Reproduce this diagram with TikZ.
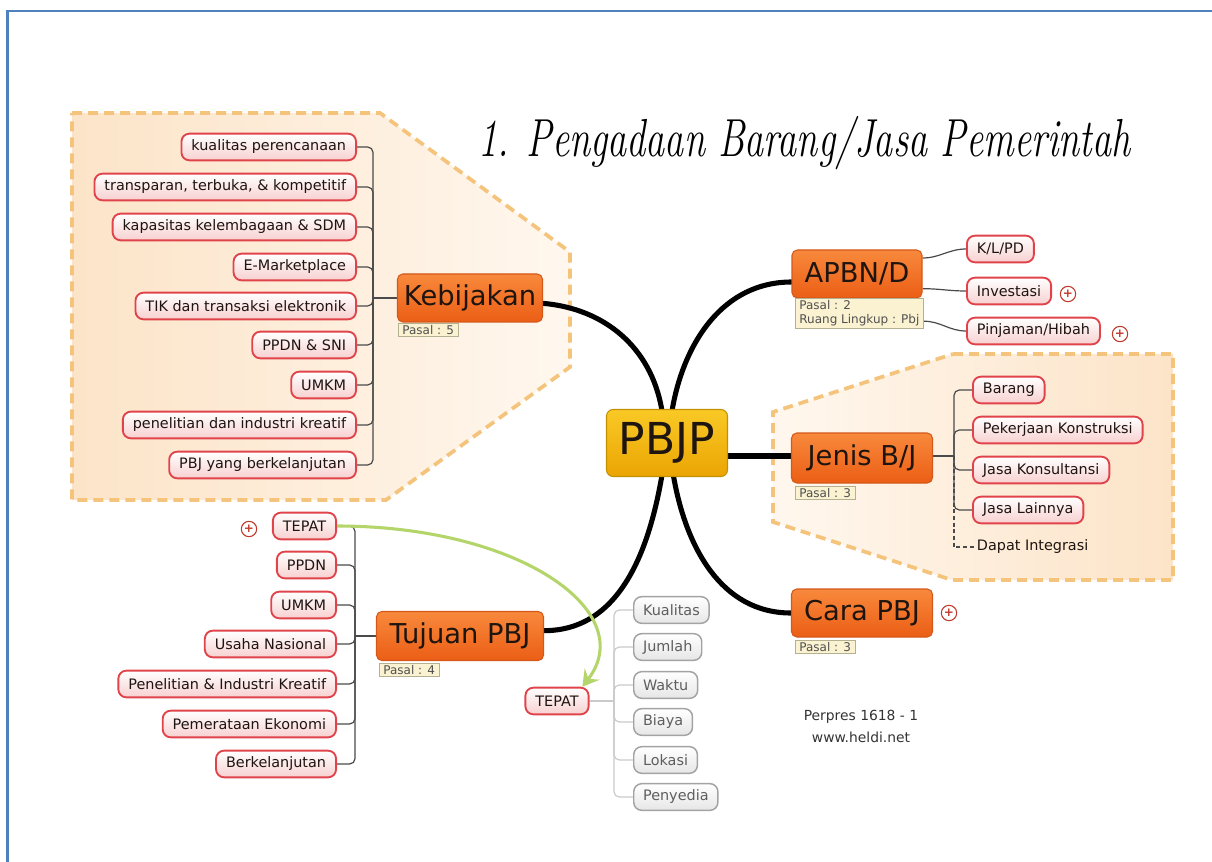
\documentclass[tikz,border=0pt]{standalone}
\usepackage[T1,TU]{fontenc}
\usepackage{fontspec}
\usepackage{graphicx}
\setmainfont{DejaVu Sans}
\usetikzlibrary{arrows.meta,calc}

% script face for the heading: Zapf Chancery when present, else Latin Modern italic
\newif\ifchancery
\IfFileExists{t1pzc.fd}{\IfFileExists{pzcmi8t.tfm}{\chancerytrue}{}}{}
\ifchancery
  \newcommand\headingface{\fontencoding{T1}\fontfamily{pzc}\fontseries{mb}\fontshape{it}\selectfont}
\else
  \newcommand\headingface{\fontencoding{TU}\fontfamily{lmr}\fontseries{m}\fontshape{it}\selectfont}
\fi

\definecolor{frameblue}{HTML}{4F81BD}
\definecolor{grpdash}{HTML}{F5C47C}
\definecolor{grpdeep}{HTML}{FCE4C8}
\definecolor{grplight}{HTML}{FFF7EE}
\definecolor{mainTop}{HTML}{F8893C}
\definecolor{mainBot}{HTML}{EB5E15}
\definecolor{mainEdge}{HTML}{D4581A}
\definecolor{hubTop}{HTML}{F9C926}
\definecolor{hubBot}{HTML}{EBA503}
\definecolor{hubEdge}{HTML}{C29000}
\definecolor{leafEdge}{HTML}{E0444A}
\definecolor{leafBot}{HTML}{F8D0D0}
\definecolor{noteFill}{HTML}{FAF2D0}
\definecolor{noteEdge}{HTML}{B4B092}
\definecolor{noteText}{HTML}{505050}
\definecolor{greyEdge}{HTML}{A3A3A3}
\definecolor{greyBot}{HTML}{E6E6E6}
\definecolor{greyText}{HTML}{5E5E5E}
\definecolor{greyLine}{HTML}{CACACA}
\definecolor{twigLine}{HTML}{4A4A4A}
\definecolor{linkGreen}{HTML}{B3D56A}
\definecolor{inkDark}{HTML}{1E1410}
\definecolor{plusRed}{HTML}{C0392B}

\pgfdeclarelayer{groups}
\pgfdeclarelayer{links}
\pgfsetlayers{groups,links,main}

\begin{document}
\begin{tikzpicture}[x=0.75pt,y=0.75pt,
  grouparea/.style={draw=grpdash, line width=2.8pt, dash pattern=on 7.5pt off 4.5pt},
  mainnode/.style={rounded corners=4pt, draw=mainEdge, line width=0.8pt,
    top color=mainTop, bottom color=mainBot, text=inkDark, inner sep=0pt,
    font=\fontsize{20.5}{24}\selectfont},
  hubnode/.style={rounded corners=5pt, draw=hubEdge, line width=0.8pt,
    top color=hubTop, bottom color=hubBot, text=inkDark, inner sep=0pt,
    font=\fontsize{33}{38}\selectfont},
  leaf/.style={rounded corners=6pt, draw=leafEdge, line width=1.4pt,
    top color=white, bottom color=leafBot, text=inkDark, inner xsep=7.5pt,
    inner ysep=0pt, minimum height=20pt, font=\fontsize{10.8}{13}\selectfont},
  greyleaf/.style={rounded corners=6pt, draw=greyEdge, line width=1.1pt,
    top color=white, bottom color=greyBot, text=greyText, inner xsep=7pt,
    inner ysep=0pt, minimum height=20pt, font=\fontsize{10.8}{13}\selectfont},
  note/.style={draw=noteEdge, line width=0.6pt, fill=noteFill, text=noteText,
    inner xsep=3pt, inner ysep=1.5pt, align=left,
    font=\fontsize{9}{10.5}\selectfont},
  plus/.style={circle, draw=plusRed, line width=0.8pt, fill=white, text=plusRed,
    minimum size=11.5pt, inner sep=0pt, font=\fontsize{9}{9}\selectfont\bfseries},
  trunk/.style={draw=black, line width=3.8pt, line cap=round},
  twig/.style={draw=twigLine, line width=0.9pt, rounded corners=4pt},
  greytwig/.style={draw=greyLine, line width=0.9pt, rounded corners=4pt}
]
\useasboundingbox (0,0) rectangle (1212,-862);

% page frame
\draw[frameblue, line width=1.9pt] (7.5,-880) -- (7.5,-11) -- (1230,-11);

% group areas
\begin{pgfonlayer}{groups}
  \path[grouparea, left color=grpdeep, right color=grplight]
    (72,-113) -- (380,-113) -- (570,-252) -- (570,-367) -- (386,-500)
    -- (72,-500) -- cycle;
  \path[grouparea, left color=grplight, right color=grpdeep]
    (953,-354) -- (1173,-354) -- (1173,-580) -- (952,-580) -- (773,-522)
    -- (773,-412) -- cycle;
\end{pgfonlayer}

% heading, stretched to its line length and drawn tall
\node[anchor=base west, inner sep=0pt, text=black] (title) at (478,-157)
  {\scalebox{1}[1.4]{\resizebox{489pt}{!}{\headingface\fontsize{30}{34}\selectfont 1. Pengadaan Barang/Jasa Pemerintah}}};

% central topic and main branches
\node[hubnode, minimum width=90.75pt, minimum height=50.25pt] (pbjp) at (667,-443) {PBJP};
\node[mainnode, minimum width=108.75pt, minimum height=36pt] (keb) at (470,-298) {Kebijakan};
\node[mainnode, minimum width=97.5pt, minimum height=36pt] (apbn) at (857,-274) {APBN/D};
\node[mainnode, minimum width=105.75pt, minimum height=37.5pt] (jenis) at (862,-458) {Jenis B/J};
\node[mainnode, minimum width=105.75pt, minimum height=36pt] (cara) at (862,-613) {Cara PBJ};
\node[mainnode, minimum width=125.25pt, minimum height=36.75pt] (tujuan) at (460,-636) {Tujuan PBJ};

% notes
\node[note, anchor=north west] (kebnote) at (398,-323) {Pasal : 5};
\node[note, anchor=north west] (apbnnote) at (795,-298) {Pasal : 2\\Ruang Lingkup : Pbj};
\node[note, anchor=north west] (jenisnote) at (795,-486) {Pasal : 3};
\node[note, anchor=north west] (caranote) at (795,-640) {Pasal : 3};
\node[note, anchor=north west] (tujuannote) at (379,-663) {Pasal : 4};

% Kebijakan leaves
\node[leaf, anchor=east] (k1) at (357,-147) {kualitas perencanaan};
\node[leaf, anchor=east] (k2) at (357,-187) {transparan, terbuka, \& kompetitif};
\node[leaf, anchor=east] (k3) at (357,-227) {kapasitas kelembagaan \& SDM};
\node[leaf, anchor=east] (k4) at (357,-267) {E-Marketplace};
\node[leaf, anchor=east] (k5) at (357,-306) {TIK dan transaksi elektronik};
\node[leaf, anchor=east] (k6) at (357,-345) {PPDN \& SNI};
\node[leaf, anchor=east] (k7) at (357,-385) {UMKM};
\node[leaf, anchor=east] (k8) at (357,-425) {penelitian dan industri kreatif};
\node[leaf, anchor=east] (k9) at (357,-465) {PBJ yang berkelanjutan};
\coordinate (kspine) at (373,-298);

% APBN/D leaves
\node[leaf, anchor=west] (a1) at (966,-249) {K/L/PD};
\node[leaf, anchor=west] (a2) at (966,-291) {Investasi};
\node[leaf, anchor=west] (a3) at (966,-331) {Pinjaman/Hibah};
\node[plus] (pa2) at (1068,-294) {+};
\node[plus] (pa3) at (1120,-334) {+};

% Jenis B/J leaves
\node[leaf, anchor=west] (j1) at (972,-390) {Barang};
\node[leaf, anchor=west] (j2) at (972,-430) {Pekerjaan Konstruksi};
\node[leaf, anchor=west] (j3) at (972,-470) {Jasa Konsultansi};
\node[leaf, anchor=west] (j4) at (972,-510) {Jasa Lainnya};
\node[anchor=west, inner xsep=2pt, text=inkDark, font=\fontsize{10.8}{13}\selectfont]
  (dapat) at (974,-547) {Dapat Integrasi};
\coordinate (jspine) at (954,-456);

% Cara PBJ
\node[plus] (pcara) at (949,-613) {+};

% Tujuan PBJ leaves
\node[leaf, anchor=east] (t1) at (337,-526) {TEPAT};
\node[leaf, anchor=east] (t2) at (337,-565) {PPDN};
\node[leaf, anchor=east] (t3) at (337,-605) {UMKM};
\node[leaf, anchor=east] (t4) at (337,-644) {Usaha Nasional};
\node[leaf, anchor=east] (t5) at (337,-684) {Penelitian \& Industri Kreatif};
\node[leaf, anchor=east] (t6) at (337,-724) {Pemerataan Ekonomi};
\node[leaf, anchor=east] (t7) at (337,-764) {Berkelanjutan};
\node[plus] (pt1) at (249,-529) {+};
\coordinate (tspine) at (355,-636);

% TEPAT detail
\node[leaf] (tepat) at (557,-701) {TEPAT};
\node[greyleaf, anchor=west] (g1) at (633,-610) {Kualitas};
\node[greyleaf, anchor=west] (g2) at (633,-647) {Jumlah};
\node[greyleaf, anchor=west] (g3) at (633,-685) {Waktu};
\node[greyleaf, anchor=west] (g4) at (633,-722) {Biaya};
\node[greyleaf, anchor=west] (g5) at (633,-760) {Lokasi};
\node[greyleaf, anchor=west] (g6) at (633,-797) {Penyedia};
\coordinate (gspine) at (614,-701);

% source
\node[align=center, text=black!80, font=\fontsize{10.4}{16.5}\selectfont]
  (source) at (861,-726) {Perpres 1618 - 1\\www.heldi.net};

% connectors
\begin{pgfonlayer}{links}
  \draw[trunk] ([xshift=-4pt]pbjp.north) to[out=100,in=-5] ([yshift=-4pt]keb.east);
  \draw[trunk] ([xshift=4pt]pbjp.north) to[out=80,in=180] ([yshift=-6pt]apbn.west);
  \draw[trunk] (pbjp.east |- jspine) -- (jenis.west |- jspine);
  \draw[trunk] ([xshift=5pt]pbjp.south) to[out=-80,in=180] (cara.west);
  \draw[trunk] ([xshift=-4pt]pbjp.south) to[out=-100,in=0] ([yshift=4pt]tujuan.east);

  \foreach \n in {k1,k2,k3,k4,k5,k6,k7,k8,k9}
    \draw[twig] (\n.east) -| (kspine);
  \draw[twig] (kspine) -- (keb.west |- kspine);

  \draw[twig, rounded corners=0pt] ([yshift=12pt]apbn.east) to[out=0,in=180] (a1.west);
  \draw[twig, rounded corners=0pt] ([yshift=-11pt]apbn.east) to[out=0,in=180] (a2.west);
  \draw[twig, rounded corners=0pt] ([yshift=-6pt]apbnnote.east) to[out=0,in=180] (a3.west);

  \draw[twig, dash pattern=on 3pt off 2pt, rounded corners=0pt] (jspine) |- (dapat.west);
  \draw[twig] (jenis.east |- jspine) -- (jspine);
  \foreach \n in {j1,j2,j3,j4}
    \draw[twig] (jspine) |- (\n.west);

  \foreach \n in {t1,t2,t3,t4,t5,t6,t7}
    \draw[twig] (\n.east) -| (tspine);
  \draw[twig] (tspine) -- (tujuan.west |- tspine);

  \draw[greytwig] (tepat.east) -- (gspine);
  \foreach \n in {g1,g2,g3,g4,g5,g6}
    \draw[greytwig] (gspine) |- (\n.west);
\end{pgfonlayer}

% cross link between the two TEPAT topics
\draw[linkGreen, line width=2.3pt,
  -{Stealth[length=12pt, width=14pt, inset=4.5pt]}]
  (t1.east) .. controls (520,-526) and (640,-612) .. ([xshift=19pt]tepat.north);

\end{tikzpicture}
\end{document}
